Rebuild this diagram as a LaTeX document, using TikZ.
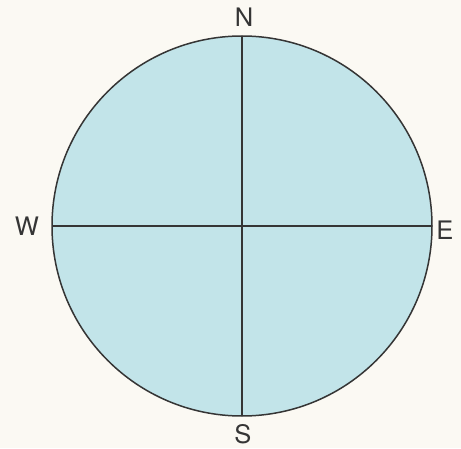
\documentclass[tikz,border=0pt]{standalone}
\usepackage{fontspec}
\setmainfont{TeX Gyre Heros}
\usepackage{xcolor}
\definecolor{paper}{HTML}{FBF9F3}
\definecolor{sea}{HTML}{C2E4E9}
\definecolor{ink}{HTML}{353535}

\begin{document}
\begin{tikzpicture}[x=1pt,y=1pt]
		\useasboundingbox[fill=paper] (0,0) rectangle (461,448);
		\tikzset{dir/.style={text=ink,font=\fontsize{25.5}{26}\selectfont,inner sep=0pt}}
		\coordinate (c) at (242,222);
		\filldraw[fill=sea,draw=ink,line width=1.5pt] (c) circle [radius=190];
		\coordinate (top) at (242,412);
		\coordinate (bot) at (242,32);
		\coordinate (lft) at (52,222);
		\coordinate (rgt) at (432,222);
		\draw[ink,line width=1.5pt] (top)--(bot);
		\draw[ink,line width=1.5pt] (lft)--(rgt);
		\node[dir] (n) at (244,431) {N};
		\node[dir] (s) at (243,14) {S};
		\node[dir] (w) at (27,222) {W};
		\node[dir] (e) at (445,218) {E};
	\end{tikzpicture}
\end{document}
